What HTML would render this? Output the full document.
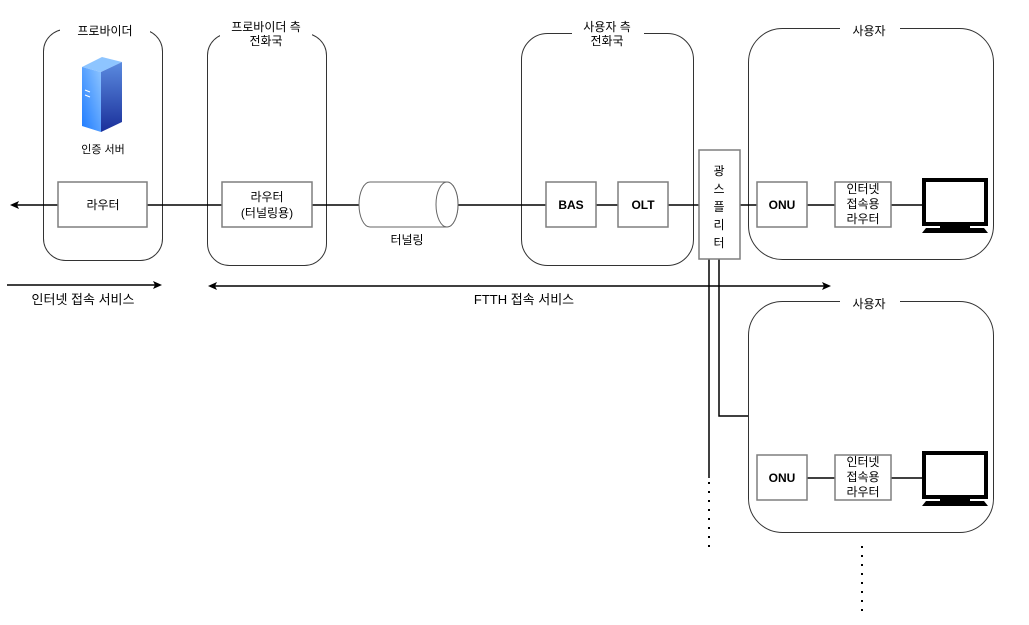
<!DOCTYPE html>
<html><head><meta charset="utf-8"><style>
body{margin:0;background:#fff}
svg{display:block;font-family:"Liberation Sans","Noto Sans CJK KR",sans-serif}
</style></head><body>
<svg width="1029" height="625" viewBox="0 0 1029 625" xmlns="http://www.w3.org/2000/svg">
<defs>
<linearGradient id="gf" x1="0" y1="1" x2="1" y2="0"><stop offset="0" stop-color="#1e7bff"/><stop offset="1" stop-color="#8ec5ff"/></linearGradient>
<linearGradient id="gs" x1="0" y1="0" x2="0" y2="1"><stop offset="0" stop-color="#5b8be0"/><stop offset="1" stop-color="#1a2f9a"/></linearGradient>
</defs>
<g fill="none" stroke="#333" stroke-width="1">
<rect x="43.5" y="29.5" width="119" height="231" rx="22"/>
<rect x="207.5" y="33.5" width="119" height="232" rx="22"/>
<rect x="521.5" y="33.5" width="172" height="232" rx="26"/>
<rect x="748.5" y="28.5" width="245" height="231" rx="34"/>
<rect x="748.5" y="301.5" width="245" height="231" rx="34"/>
</g>
<g fill="#fff">
<rect x="60" y="22" width="90" height="16"/>
<rect x="220" y="18" width="92" height="34"/>
<rect x="572" y="18" width="72" height="34"/>
<rect x="840" y="20" width="60" height="16"/>
<rect x="840" y="293" width="60" height="16"/>
</g>
<g font-size="12" text-anchor="middle" fill="#000">
<text x="105" y="35">프로바이더</text>
<text x="266" y="31">프로바이더 측</text>
<text x="266" y="45">전화국</text>
<text x="607" y="31">사용자 측</text>
<text x="607" y="45">전화국</text>
<text x="869" y="35">사용자</text>
<text x="869" y="308">사용자</text>
<text x="103" y="153" font-size="11">인증 서버</text>
</g>
<!-- server -->
<polygon points="82,67 102,57 122,62 101,72" fill="#8ec5ff"/>
<polygon points="82,67 101,72 101,132 82,126" fill="url(#gf)"/>
<polygon points="101,72 122,62 122,122 101,132" fill="url(#gs)"/>
<line x1="85" y1="90" x2="90" y2="92" stroke="#fff"/><line x1="85" y1="95" x2="90" y2="97" stroke="#fff"/>
<!-- main line -->
<g stroke="#000" stroke-width="1.5" fill="none">
<line x1="58" y1="205" x2="16" y2="205"/>
<line x1="147" y1="205" x2="222" y2="205"/>
<line x1="312" y1="205" x2="359" y2="205"/>
<line x1="458" y1="205" x2="546" y2="205"/>
<line x1="596" y1="205" x2="618" y2="205"/>
<line x1="668" y1="205" x2="699" y2="205"/>
<line x1="740" y1="205" x2="757" y2="205"/>
<line x1="807" y1="205" x2="835" y2="205"/>
<line x1="891" y1="205" x2="922" y2="205"/>
<line x1="807" y1="478" x2="835" y2="478"/>
<line x1="891" y1="478" x2="922" y2="478"/>
<line x1="709" y1="259" x2="709" y2="478"/>
<polyline points="719,259 719,416 748,416"/>
<line x1="7" y1="285" x2="155" y2="285"/>
<line x1="215" y1="286" x2="824" y2="286"/>
</g>
<g fill="#000">
<polygon points="10,205 19,201 17,205 19,209"/>
<polygon points="162,285 153,281 155,285 153,289"/>
<polygon points="208,286 217,282 215,286 217,290"/>
<polygon points="831,286 822,282 824,286 822,290"/>
</g>
<g stroke="#000" stroke-width="2" stroke-dasharray="2,7" fill="none">
<line x1="709" y1="482" x2="709" y2="548"/>
<line x1="862" y1="546" x2="862" y2="612"/>
</g>
<!-- boxes -->
<g fill="#fff" stroke="#7f7f7f" stroke-width="1.5">
<rect x="58" y="182" width="89" height="45"/>
<rect x="222" y="182" width="90" height="45"/>
<rect x="546" y="182" width="50" height="45"/>
<rect x="618" y="182" width="50" height="45"/>
<rect x="699" y="150" width="41" height="109"/>
<rect x="757" y="182" width="50" height="45"/>
<rect x="835" y="182" width="56" height="45"/>
<rect x="757" y="455" width="50" height="45"/>
<rect x="835" y="455" width="56" height="45"/>
</g>
<!-- cylinder -->
<g fill="#fff" stroke="#666" stroke-width="1">
<path d="M370,182 H447 A11,22.5 0 0 1 447,227 H370 A11,22.5 0 0 1 370,182 Z"/>
<ellipse cx="447" cy="204.5" rx="11" ry="22.5"/>
</g>
<g font-size="12" text-anchor="middle" fill="#000">
<text x="103" y="209">라우터</text>
<text x="267" y="201">라우터</text>
<text x="267" y="217">(터널링용)</text>
<text x="407" y="244">터널링</text>
<text x="571" y="209" font-weight="bold">BAS</text>
<text x="643" y="209" font-weight="bold">OLT</text>
<text x="782" y="209" font-weight="bold">ONU</text>
<text x="782" y="482" font-weight="bold">ONU</text>
<text x="863" y="193">인터넷</text>
<text x="863" y="208">접속용</text>
<text x="863" y="223">라우터</text>
<text x="863" y="466">인터넷</text>
<text x="863" y="481">접속용</text>
<text x="863" y="496">라우터</text>
<text x="719" y="175">광</text>
<text x="719" y="193">스</text>
<text x="719" y="211">플</text>
<text x="719" y="229">리</text>
<text x="719" y="247">터</text>
<text x="83" y="304" font-size="13">인터넷 접속 서비스</text>
<text x="524" y="304" font-size="13">FTTH 접속 서비스</text>
</g>
<!-- monitors -->
<g id="mon">
<rect x="924" y="180" width="62" height="44" fill="none" stroke="#000" stroke-width="4"/>
<rect x="940" y="224" width="30" height="4" fill="#000"/>
<polygon points="926,228 984,228 988,233 922,233" fill="#000"/>
</g>
<use href="#mon" y="273"/>
</svg>
</body></html>
